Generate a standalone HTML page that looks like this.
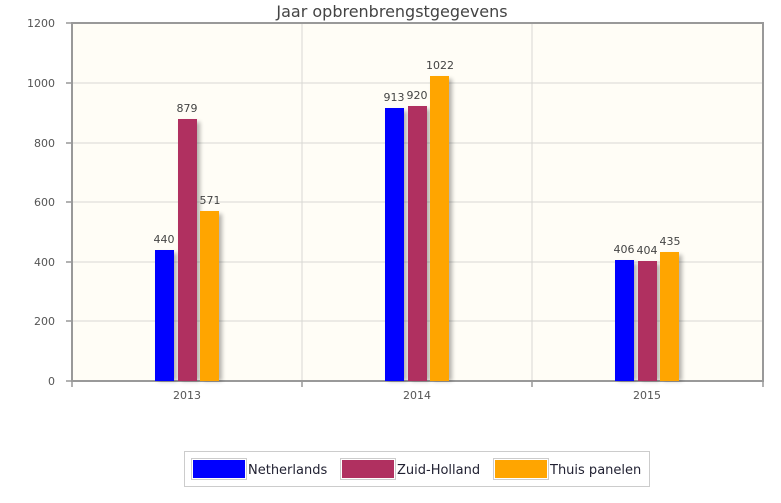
<!DOCTYPE html>
<html><head><style>
body{margin:0;background:#fff;width:781px;height:499px;overflow:hidden;font-family:"DejaVu Sans","Liberation Sans",sans-serif}
</style></head><body>
<svg width="781" height="499" xmlns="http://www.w3.org/2000/svg" font-family="DejaVu Sans, Liberation Sans, sans-serif">
<defs><filter id="sh" x="-50%" y="-10%" width="200%" height="120%"><feGaussianBlur stdDeviation="2"/></filter></defs>
<text x="392" y="17" text-anchor="middle" font-size="16" fill="#444">Jaar opbrenbrengstgegevens</text>
<rect x="72" y="23" width="691" height="358" fill="#fffdf6"/>
<g stroke="#d8d8d4" stroke-width="1">
<line x1="72" y1="83" x2="763" y2="83"/><line x1="72" y1="143" x2="763" y2="143"/>
<line x1="72" y1="202" x2="763" y2="202"/><line x1="72" y1="262" x2="763" y2="262"/>
<line x1="72" y1="321" x2="763" y2="321"/>
<line x1="302" y1="23" x2="302" y2="381"/><line x1="532" y1="23" x2="532" y2="381"/>
</g>
<rect x="72" y="23" width="691" height="358" fill="none" stroke="#999" stroke-width="2"/>
<g stroke="#999" stroke-width="1.5">
<line x1="66" y1="23" x2="72" y2="23"/><line x1="66" y1="83" x2="72" y2="83"/><line x1="66" y1="143" x2="72" y2="143"/>
<line x1="66" y1="202" x2="72" y2="202"/><line x1="66" y1="262" x2="72" y2="262"/><line x1="66" y1="321" x2="72" y2="321"/><line x1="66" y1="381" x2="72" y2="381"/>
<line x1="72" y1="381" x2="72" y2="387"/><line x1="302" y1="381" x2="302" y2="387"/><line x1="532" y1="381" x2="532" y2="387"/><line x1="763" y1="381" x2="763" y2="387"/>
</g>
<g font-size="11" fill="#555" text-anchor="end">
<text x="55" y="27">1200</text><text x="55" y="87">1000</text><text x="55" y="147">800</text>
<text x="55" y="206">600</text><text x="55" y="266">400</text><text x="55" y="325">200</text><text x="55" y="385">0</text>
</g>
<g font-size="11" fill="#555" text-anchor="middle">
<text x="187" y="399">2013</text><text x="417" y="399">2014</text><text x="647" y="399">2015</text>
</g>
<g fill="#000" opacity="0.3" filter="url(#sh)">
<rect x="158" y="253" width="19" height="128"/><rect x="181" y="122" width="19" height="259"/><rect x="203" y="214" width="19" height="167"/>
<rect x="388" y="111" width="19" height="270"/><rect x="411" y="109" width="19" height="272"/><rect x="433" y="79" width="19" height="302"/>
<rect x="618" y="263" width="19" height="118"/><rect x="641" y="264" width="19" height="117"/><rect x="663" y="255" width="19" height="126"/>
</g>
<rect x="155" y="250" width="19" height="131" fill="#0000ff"/>
<rect x="178" y="119" width="19" height="262" fill="#b03060"/>
<rect x="200" y="211" width="19" height="170" fill="#ffa500"/>
<rect x="385" y="108" width="19" height="273" fill="#0000ff"/>
<rect x="408" y="106" width="19" height="275" fill="#b03060"/>
<rect x="430" y="76" width="19" height="305" fill="#ffa500"/>
<rect x="615" y="260" width="19" height="121" fill="#0000ff"/>
<rect x="638" y="261" width="19" height="120" fill="#b03060"/>
<rect x="660" y="252" width="19" height="129" fill="#ffa500"/>
<g font-size="11" fill="#444" text-anchor="middle">
<text x="164" y="243">440</text><text x="187" y="112">879</text><text x="210" y="204">571</text>
<text x="394" y="101">913</text><text x="417" y="99">920</text><text x="440" y="69">1022</text>
<text x="624" y="253">406</text><text x="647" y="254">404</text><text x="670" y="245">435</text>
</g>
<rect x="184.5" y="451.5" width="465" height="35" fill="#fff" stroke="#ccc"/>
<rect x="191.5" y="458.5" width="55" height="21" fill="#fff" stroke="#ccc"/><rect x="193" y="460" width="52" height="18" fill="#0000ff"/>
<rect x="340.5" y="458.5" width="55" height="21" fill="#fff" stroke="#ccc"/><rect x="342" y="460" width="52" height="18" fill="#b03060"/>
<rect x="493.5" y="458.5" width="55" height="21" fill="#fff" stroke="#ccc"/><rect x="495" y="460" width="52" height="18" fill="#ffa500"/>
<g font-size="13" fill="#223">
<text x="248" y="474">Netherlands</text><text x="397" y="474">Zuid-Holland</text><text x="550" y="474">Thuis panelen</text>
</g>
</svg>
</body></html>
